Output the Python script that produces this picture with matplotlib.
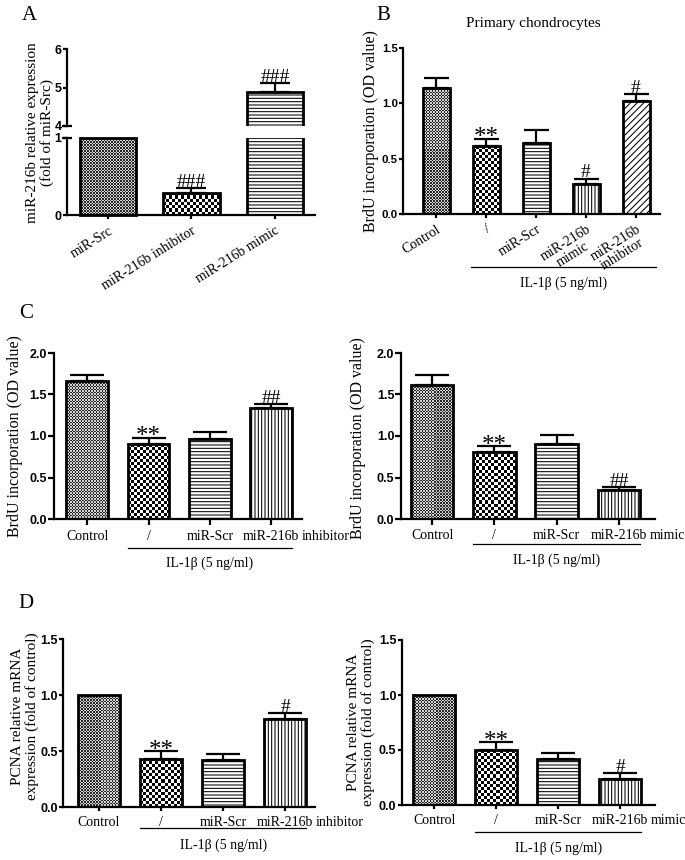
import numpy as np
import matplotlib
matplotlib.use('Agg')
import matplotlib.pyplot as plt
from matplotlib.colors import ListedColormap
from matplotlib.transforms import blended_transform_factory

# ---------------- data ----------------
a_labels = ['miR-Src', 'miR-216b inhibitor', 'miR-216b mimic']
a_vals = [1.0, 0.29, 4.88]
a_err = [0.0, 0.06, 0.23]
a_marks = ['', '###', '###']

b_labels = ['Control', '/', 'miR-Scr', 'miR-216b\nmimic', 'miR-216b\ninhibitor']
b_vals = [1.14, 0.61, 0.64, 0.27, 1.02]
b_err = [0.09, 0.07, 0.12, 0.05, 0.06]
b_marks = ['', '**', '', '#', '#']

cd_labels = ['Control', '/', 'miR-Scr', 'miR-216b']

c1_vals = [1.66, 0.90, 0.96, 1.34]
c1_err = [0.08, 0.08, 0.09, 0.04]
c1_marks = ['', '**', '', '##']

c2_vals = [1.61, 0.81, 0.90, 0.35]
c2_err = [0.13, 0.07, 0.11, 0.04]
c2_marks = ['', '**', '', '##']

d1_vals = [1.0, 0.43, 0.42, 0.79]
d1_err = [0.0, 0.07, 0.05, 0.05]
d1_marks = ['', '**', '', '#']

d2_vals = [1.0, 0.50, 0.42, 0.24]
d2_err = [0.0, 0.07, 0.05, 0.05]
d2_marks = ['', '**', '', '#']

treat_label = 'IL-1β (5 ng/ml)'

# ---------------- style ----------------
plt.rcParams['font.family'] = ['Liberation Serif', 'DejaVu Serif']
plt.rcParams['hatch.linewidth'] = 0.75
SANS = 'Liberation Sans'

W, H = 685, 860
fig = plt.figure(figsize=(W / 100, H / 100), dpi=100)


def rect(l, r, t, b):
    return [l / W, 1 - b / H, (r - l) / W, (b - t) / H]


def fx(x):
    return x / W


def fy(y):
    return 1 - y / H


def style(ax, ysize=9, tlen=3.2):
    for s in ['top', 'right']:
        ax.spines[s].set_visible(False)
    for s in ['left', 'bottom']:
        ax.spines[s].set_linewidth(1.6)
    ax.tick_params(direction='out', length=tlen, width=1.6)
    ax.tick_params(axis='y', pad=0.8)
    for lab in ax.get_yticklabels():
        lab.set_fontfamily(SANS)
        lab.set_fontweight('bold')
        lab.set_fontsize(ysize)


def draw_bars(ax, vals, errs, patterns, width, capsize):
    x = np.arange(len(vals))
    bars = ax.bar(x, vals, width, color='white', edgecolor='black',
                  linewidth=2, zorder=2)
    for bar, p in zip(bars, patterns):
        if p in ('fine', 'checker'):
            bar.set_facecolor('none')
        else:
            bar.set_hatch(p)
    errs = np.asarray(errs)
    m = errs > 0
    ax.errorbar(x[m], np.asarray(vals)[m], yerr=[np.zeros(m.sum()), errs[m]],
                fmt='none', ecolor='black', elinewidth=1.6, capsize=capsize,
                capthick=1.6, zorder=3)
    return bars


def add_checkers(ax, bars, patterns):
    for bar, p in zip(bars, patterns):
        if p == 'fine':
            cell, cols = 1.5, ['#d4d4d4', '#262626']
        elif p == 'checker':
            cell, cols = 3.0, ['white', 'black']
        else:
            continue
        x0, w, h = bar.get_x(), bar.get_width(), bar.get_height()
        p0 = ax.transData.transform((x0, 0))
        p1 = ax.transData.transform((x0 + w, h))
        nx = max(1, int(round(abs(p1[0] - p0[0]) / cell)))
        ny = max(1, int(round(abs(p1[1] - p0[1]) / cell)))
        arr = (np.add.outer(np.arange(ny), np.arange(nx)) % 2)
        im = ax.imshow(arr, extent=(x0, x0 + w, 0, h), origin='lower',
                       cmap=ListedColormap(cols), interpolation='nearest',
                       aspect='auto', zorder=1.5, vmin=0, vmax=1)
        im.set_clip_path(bar)


def add_marks(ax, vals, errs, marks):
    for i, (v, e, mk) in enumerate(zip(vals, errs, marks)):
        if not mk:
            continue
        if '*' in mk:
            ax.annotate(mk, xy=(i, v + e), xytext=(0, -4), textcoords='offset points',
                        ha='center', va='baseline', fontsize=18, annotation_clip=False)
        else:
            ax.annotate(mk, xy=(i, v + e), xytext=(0, 0.8), textcoords='offset points',
                        ha='center', va='baseline', fontsize=14, annotation_clip=False)


def group_line(ax, x0, x1, y_line, y_text):
    tr = blended_transform_factory(ax.transData, fig.transFigure)
    ax.plot([x0, x1], [fy(y_line)] * 2, transform=tr, color='black', lw=0.9,
            clip_on=False)
    ax.text((x0 + x1) / 2, fy(y_text), treat_label, transform=tr, ha='center',
            va='center', fontsize=10)


# ---------------- Panel A ----------------
a_pat = ['fine', 'checker', '-----']
axA_b = fig.add_axes(rect(67, 315, 138, 215))
axA_t = fig.add_axes(rect(67, 315, 49, 126))
barsA_b = draw_bars(axA_b, a_vals, a_err, a_pat, 0.68, 11)
barsA_t = draw_bars(axA_t, a_vals, a_err, a_pat, 0.68, 11)
for ax in (axA_b, axA_t):
    ax.set_xlim(-0.49, 2.48)
axA_b.set_ylim(0, 1)
axA_t.set_ylim(4, 6)
axA_b.set_yticks([0, 1])
axA_t.set_yticks([4, 5, 6])
axA_b.set_xticks(range(len(a_labels)))
axA_b.set_xticklabels(a_labels, rotation=32, ha='right', rotation_mode='anchor',
                      fontsize=10)
axA_t.set_xticks([])
style(axA_b)
style(axA_t)
axA_t.spines['bottom'].set_visible(False)
# the first bar ends exactly at the top of the lower segment
barsA_b[0].set_clip_on(False)
add_checkers(axA_b, barsA_b, a_pat)
# break marks
axA_b.plot([0], [1], marker='_', ms=7, mew=1.6, color='black',
           transform=axA_b.transAxes, clip_on=False)
axA_t.plot([0], [0], marker='_', ms=7, mew=1.6, color='black',
           transform=axA_t.transAxes, clip_on=False)
for i, (v, e, mk) in enumerate(zip(a_vals, a_err, a_marks)):
    if mk:
        target = axA_t if v + e > 4 else axA_b
        target.annotate(mk, xy=(i, v + e), xytext=(0, 0.8), textcoords='offset points',
                        ha='center', va='baseline', fontsize=14, annotation_clip=False)
fig.text(fx(40), fy(133), 'miR-216b relative expression\n(fold of miR-Src)',
         rotation=90, ha='center', va='center', multialignment='center',
         fontsize=11, linespacing=1.1)

# ---------------- Panel B ----------------
b_pat = ['fine', 'checker', '-----', '|||||', '/////']
axB = fig.add_axes(rect(403, 660, 48, 214))
barsB = draw_bars(axB, b_vals, b_err, b_pat, 0.54, 9)
axB.set_xlim(-0.66, 4.48)
axB.set_ylim(0, 1.5)
axB.set_yticks([0, 0.5, 1.0, 1.5])
axB.set_yticklabels(['0.0', '0.5', '1.0', '1.5'])
axB.set_xticks(range(len(b_labels)))
axB.set_xticklabels(b_labels, rotation=32, ha='right', rotation_mode='anchor',
                    fontsize=10, multialignment='center', linespacing=1.0)
style(axB, ysize=8.2, tlen=2.8)
add_checkers(axB, barsB, b_pat)
add_marks(axB, b_vals, b_err, b_marks)
fig.text(fx(371), fy(131), 'BrdU incorporation (OD value)', rotation=90,
         ha='center', va='center', fontsize=11.5)
fig.text(fx(533), fy(23), 'Primary chondrocytes', ha='center', va='center',
         fontsize=11)
group_line(axB, 1 - 0.3, 4 + 0.4, 267, 283)

# ---------------- Panels C and D ----------------
cd_pat = ['fine', 'checker', '-----', '|||||']
specs = [
    # rect, vals, errs, marks, ylim, yticks, suffix, xlim, line_y, text_y, tick len
    ((54, 302, 353, 519), c1_vals, c1_err, c1_marks, (0, 2.0),
     [0, 0.5, 1.0, 1.5, 2.0], 'inhibitor', (-0.54, 3.5), 548, 563, 4.5),
    ((401, 655, 353, 519), c2_vals, c2_err, c2_marks, (0, 2.0),
     [0, 0.5, 1.0, 1.5, 2.0], 'mimic', (-0.5, 3.58), 544, 560, 4.0),
    ((63, 315, 639, 807), d1_vals, d1_err, d1_marks, (0, 1.5),
     [0, 0.5, 1.0, 1.5], 'inhibitor', (-0.58, 3.48), 828, 845, 3.0),
    ((402, 655, 640, 805), d2_vals, d2_err, d2_marks, (0, 1.5),
     [0, 0.5, 1.0, 1.5], 'mimic', (-0.52, 3.56), 832, 848, 3.2),
]
for (l, r, t, b), vals, errs, marks, ylim, yt, suffix, xlim, ly, ty, tl in specs:
    ax = fig.add_axes(rect(l, r, t, b))
    bars = draw_bars(ax, vals, errs, cd_pat, 0.68, 12)
    ax.set_xlim(*xlim)
    ax.set_ylim(*ylim)
    ax.set_yticks(yt)
    ax.set_yticklabels([f'{v:.1f}' for v in yt])
    ax.set_xticks(range(len(cd_labels)))
    ax.set_xticklabels(cd_labels, fontsize=10)
    style(ax, ysize=9, tlen=tl)
    add_checkers(ax, bars, cd_pat)
    add_marks(ax, vals, errs, marks)
    lab = ax.get_xticklabels()[3]
    ax.annotate(suffix, xy=(1, 0), xycoords=lab, xytext=(1.8, 0),
                textcoords='offset points', ha='left', va='bottom',
                fontsize=10, annotation_clip=False)
    group_line(ax, 1 - 0.34, 3 + 0.34, ly, ty)

fig.text(fx(15), fy(436), 'BrdU incorporation (OD value)', rotation=90,
         ha='center', va='center', fontsize=11.5)
fig.text(fx(358), fy(438), 'BrdU incorporation (OD value)', rotation=90,
         ha='center', va='center', fontsize=11.5)
fig.text(fx(25), fy(716), 'PCNA relative mRNA\nexpression (fold of control)',
         rotation=90, ha='center', va='center', multialignment='center',
         fontsize=11, linespacing=1.1)
fig.text(fx(361), fy(722), 'PCNA relative mRNA\nexpression (fold of control)',
         rotation=90, ha='center', va='center', multialignment='center',
         fontsize=11, linespacing=1.1)

# panel letters
for letter, (px_, py_) in zip('ABCD', [(29, 15), (383, 15), (26, 313), (26, 603)]):
    fig.text(fx(px_), fy(py_), letter, ha='center', va='center', fontsize=15)

fig.savefig('out.png', dpi=100)
